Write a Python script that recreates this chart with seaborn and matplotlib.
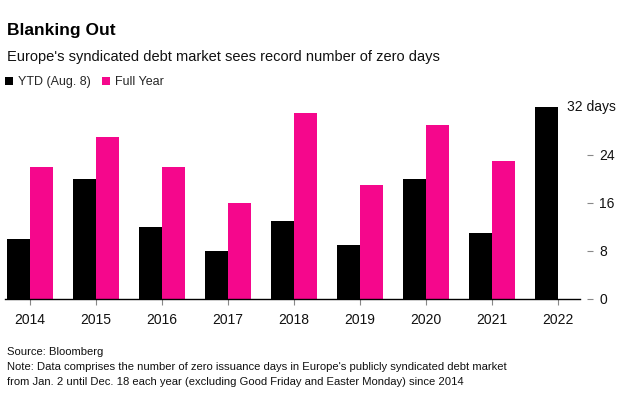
import matplotlib
matplotlib.use("Agg")
import matplotlib.pyplot as plt
import matplotlib.transforms as mtransforms
import numpy as np
import pandas as pd
import seaborn as sns

years = ["2014", "2015", "2016", "2017", "2018", "2019", "2020", "2021", "2022"]
ytd_days = [10, 20, 12, 8, 13, 9, 20, 11, 32]
full_year_days = [22, 27, 22, 16, 31, 19, 29, 23, np.nan]
series_names = ["YTD (Aug. 8)", "Full Year"]
series_colors = ["#000000", "#f5078c"]
y_ticks = [0, 8, 16, 24]

df = pd.DataFrame({
    "year": years * 2,
    "days": ytd_days + full_year_days,
    "series": [series_names[0]] * len(years) + [series_names[1]] * len(years),
})

sns.set_theme(style="white")
plt.rcParams["font.family"] = ["Liberation Sans", "DejaVu Sans"]

W, H = 632, 397
fig = plt.figure(figsize=(W / 100, H / 100), dpi=100)
# axes in pixel terms: left 5, right 587, bottom 299, top 107
ax = fig.add_axes([5 / W, (H - 299) / H, (587 - 5) / W, (299 - 107) / H])

sns.barplot(data=df, x="year", y="days", hue="series", palette=series_colors,
            width=0.7, gap=0, saturation=1, ax=ax, legend=True)

ax.set_xlim(-0.38, 8.44)
ax.set_ylim(0, 32)
ax.set_xlabel("")
ax.set_ylabel("")
for b in ax.patches:
    b.set_clip_on(False)
    b.set_edgecolor("none")

for s in ["top", "left", "right"]:
    ax.spines[s].set_visible(False)
ax.spines["bottom"].set_color("#000000")
ax.spines["bottom"].set_linewidth(1.0)
ax.spines["bottom"].set_bounds(-0.38, 8.33)

ax.tick_params(axis="x", length=4, width=0.8, color="#888888", pad=6,
               labelsize=10, labelcolor="#111111", direction="out", bottom=True)
ax.yaxis.tick_right()
ax.set_yticks(y_ticks)
ax.set_yticklabels([str(v) for v in y_ticks])
ax.tick_params(axis="y", length=4, width=0.8, color="#888888", pad=5,
               labelsize=10, labelcolor="#111111", right=True, left=False)

# top label with unit
trans = mtransforms.blended_transform_factory(ax.transAxes, ax.transData)
ax.text((567 - 5) / (587 - 5), 32, "32 days", transform=trans, ha="left",
        va="center", fontsize=10, color="#111111")

handles, labels = ax.get_legend_handles_labels()
ax.get_legend().remove()
fig.legend(handles, labels, loc="center left", bbox_to_anchor=(5 / W, 1 - 82 / H),
           ncol=2, frameon=False, fontsize=9, handlelength=0.6, handleheight=0.6,
           handletextpad=0.45, columnspacing=0.9, borderaxespad=0, borderpad=0)

fig.text(7 / W, 1 - 31 / H, "Blanking Out", fontsize=12.5, fontweight="bold",
         ha="left", va="center", color="#000000")
fig.text(7 / W, 1 - 57 / H, "Europe's syndicated debt market sees record number of zero days",
         fontsize=10.5, ha="left", va="center", color="#111111")

footer_size = 8.1
fig.text(7 / W, 1 - 352 / H, "Source: Bloomberg", fontsize=footer_size, ha="left",
         va="center", color="#111111")
fig.text(7 / W, 1 - 367 / H,
         "Note: Data comprises the number of zero issuance days in Europe's publicly syndicated debt market",
         fontsize=footer_size, ha="left", va="center", color="#111111")
fig.text(7 / W, 1 - 382 / H,
         "from Jan. 2 until Dec. 18 each year (excluding Good Friday and Easter Monday) since 2014",
         fontsize=footer_size, ha="left", va="center", color="#111111")

fig.savefig("out.png", dpi=100)
